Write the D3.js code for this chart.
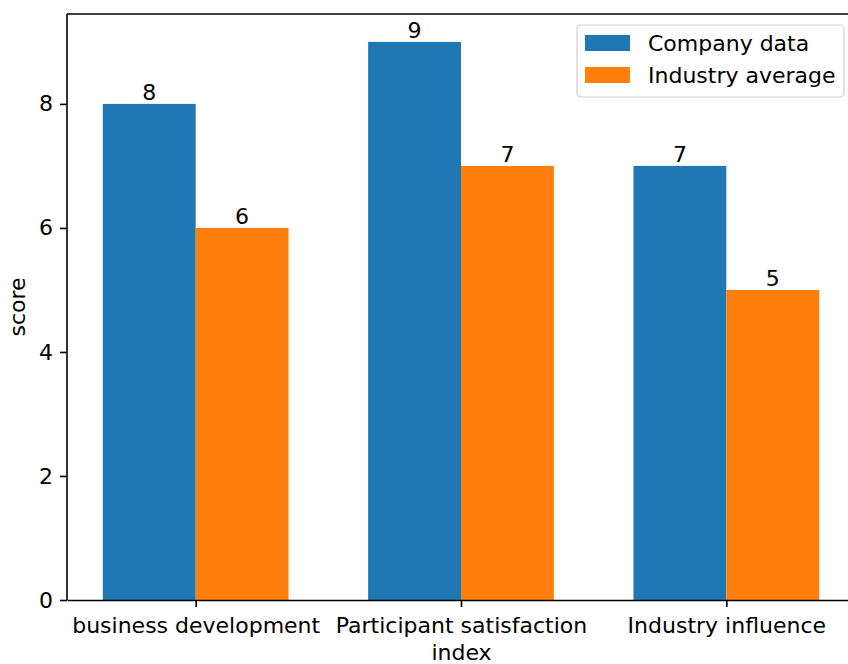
<!DOCTYPE html>
<html>
<head>
<meta charset="utf-8">
<script src="https://cdn.jsdelivr.net/npm/d3@7"></script>
<style>
  body { margin: 0; background: white; }
  svg { display: block; }
  svg text { font-family: "DejaVu Sans", sans-serif; fill: #000; }
</style>
</head>
<body>
<svg id="chart" width="848" height="664"></svg>
<script>
var categories = ["business development", "Participant satisfaction\nindex", "Industry influence"];
var companyData = [8, 9, 7];
var industryAverage = [6, 7, 5];
var seriesNames = ["Company data", "Industry average"];
var yTicks = [0, 2, 4, 6, 8];

var colors = ["#1f77b4", "#ff7f0e"];
var fontSize = 22;

var dimensions = {
    width: 848,
    height: 664,
    margin: { top: 14, bottom: 64, left: 67, right: -7 }
}

var svg = d3.select("#chart");

var barWidth = 0.35;
// x in category index units, matplotlib-style margins
var xScale = d3.scaleLinear()
               .domain([-0.485, 2.485])
               .range([dimensions.margin.left, dimensions.width - dimensions.margin.right]);

var yScale = d3.scaleLinear()
               .domain([0, 9.45])
               .range([dimensions.height - dimensions.margin.bottom, dimensions.margin.top]);

var series = [companyData, industryAverage];

series.forEach(function(values, s){
    var offset = s === 0 ? -barWidth : 0;
    var g = svg.append("g");
    g.selectAll("rect")
     .data(values)
     .enter()
     .append("rect")
     .attr("x", function(d, i){ return xScale(i + offset) })
     .attr("y", function(d){ return yScale(d) })
     .attr("width", function(){ return xScale(barWidth) - xScale(0) })
     .attr("height", function(d){ return yScale(0) - yScale(d) })
     .style("fill", colors[s]);

    g.selectAll("text")
     .data(values)
     .enter()
     .append("text")
     .attr("x", function(d, i){ return xScale(i + offset + barWidth / 2) })
     .attr("y", function(d){ return yScale(d) - 4 })
     .attr("text-anchor", "middle")
     .style("font-size", fontSize + "px")
     .text(function(d){ return d });
});

// y axis
var yAxis = svg.append("g")
               .attr("transform", "translate(" + dimensions.margin.left + ",0)")
               .call(d3.axisLeft(yScale).tickValues(yTicks).tickSize(7).tickPadding(7).tickSizeOuter(0));
yAxis.select(".domain").attr("d", "M0," + yScale(0) + "V" + yScale(9.45)).style("stroke", "#000").style("stroke-width", 1.6);
yAxis.selectAll(".tick line").style("stroke", "#000").style("stroke-width", 1.6);
yAxis.selectAll("text").style("font-size", fontSize + "px");

// x axis
var xAxis = svg.append("g")
               .attr("transform", "translate(0," + yScale(0) + ")")
               .call(d3.axisBottom(xScale).tickValues([0, 1, 2]).tickSize(7).tickPadding(7).tickSizeOuter(0).tickFormat(""));
xAxis.select(".domain").style("stroke", "#000").style("stroke-width", 1.6);
xAxis.selectAll(".tick line").style("stroke", "#000").style("stroke-width", 1.6);

xAxis.selectAll(".tick")
     .append("text")
     .attr("text-anchor", "middle")
     .style("font-size", fontSize + "px")
     .each(function(d){
         var lines = categories[d].split("\n");
         var t = d3.select(this);
         lines.forEach(function(line, k){
             t.append("tspan")
              .attr("x", 0)
              .attr("y", 33 + k * 27)
              .text(line);
         });
     });

// top spine
svg.append("line")
   .attr("x1", xScale.range()[0]).attr("x2", xScale.range()[1])
   .attr("y1", yScale(9.45)).attr("y2", yScale(9.45))
   .style("stroke", "#000").style("stroke-width", 1.6);

// y label
svg.append("text")
   .attr("transform", "rotate(-90)")
   .attr("x", -(yScale(0) + yScale(9.45)) / 2)
   .attr("y", 25)
   .attr("text-anchor", "middle")
   .style("font-size", fontSize + "px")
   .text("score");

// legend
var legend = svg.append("g").attr("transform", "translate(577,25)");
legend.append("rect")
      .attr("width", 267).attr("height", 72)
      .attr("rx", 4)
      .style("fill", "white").style("fill-opacity", 0.8)
      .style("stroke", "#d0d0d0").style("stroke-width", 1.2);
seriesNames.forEach(function(name, i){
    legend.append("rect")
          .attr("x", 8).attr("y", 10 + i * 32)
          .attr("width", 45).attr("height", 16)
          .style("fill", colors[i]);
    legend.append("text")
          .attr("x", 71).attr("y", 26 + i * 32)
          .style("font-size", fontSize + "px")
          .text(name);
});
</script>
</body>
</html>
